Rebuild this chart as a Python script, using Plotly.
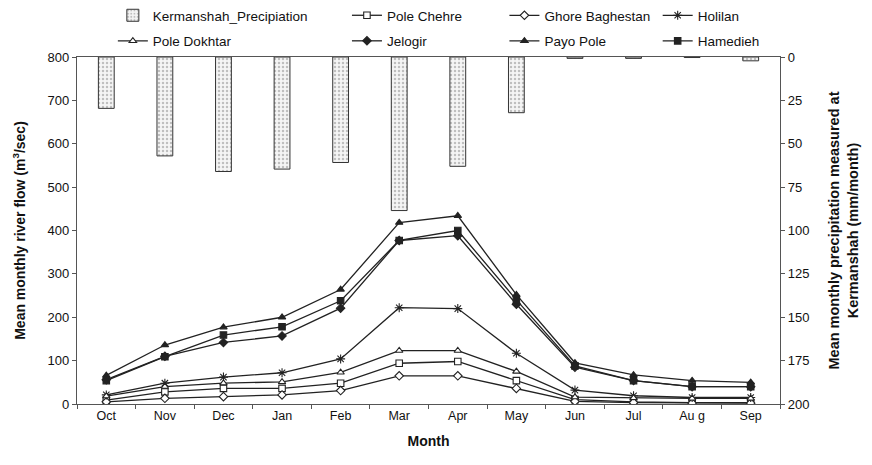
import plotly.graph_objects as go

months = ["Oct", "Nov", "Dec", "Jan", "Feb", "Mar", "Apr", "May", "Jun", "Jul", "Au g", "Sep"]

precip = [29.6, 57.0, 66.0, 64.6, 60.8, 88.5, 63.0, 32.1, 0.8, 0.8, 0.3, 2.2]

pole_chehre = [9, 28, 36, 36, 48, 94, 98, 54, 10, 5, 3, 3]
ghore_baghestan = [5, 13, 17, 21, 31, 65, 65, 36, 6, 3, 2, 2]
holilan = [21, 48, 62, 72, 104, 222, 220, 117, 32, 19, 15, 15]
pole_dokhtar = [18, 40, 48, 51, 73, 123, 123, 75, 16, 14, 13, 13]
jelogir = [56, 110, 142, 157, 221, 377, 388, 230, 85, 54, 40, 40]
payo_pole = [66, 136, 177, 200, 264, 418, 434, 252, 95, 67, 54, 50]
hamedieh = [54, 109, 159, 178, 238, 377, 400, 240, 88, 54, 40, 40]

FONT = "Liberation Sans, Arial, sans-serif"
LC = "#222222"

fig = go.Figure()

fig.add_trace(go.Bar(
    x=months, y=precip, name="Kermanshah_Precipiation", yaxis="y2",
    width=0.27,
    marker=dict(color="#f2f2f2", line=dict(color="#333333", width=1),
                pattern=dict(shape=".", fgcolor="#888888", bgcolor="#f5f5f5", size=4, solidity=0.3)),
    legend="legend", legendgroup="a",
))

# (name, values, symbol, filled, legend, size)
series = [
    ("Pole Chehre", pole_chehre, "square", False, "legend2", 6.5),
    ("Ghore Baghestan", ghore_baghestan, "diamond", False, "legend3", 6.5),
    ("Holilan", holilan, "asterisk-open", True, "legend4", 7.5),
    ("Pole Dokhtar", pole_dokhtar, "triangle-up", False, "legend", 6.5),
    ("Jelogir", jelogir, "diamond", True, "legend2", 6.5),
    ("Payo Pole", payo_pole, "triangle-up", True, "legend3", 6.5),
    ("Hamedieh", hamedieh, "square", True, "legend4", 6.5),
]
for i, (name, vals, sym, filled, leg, sz) in enumerate(series):
    fig.add_trace(go.Scatter(
        x=months, y=vals, name=name, mode="lines+markers",
        line=dict(color=LC, width=1.3),
        marker=dict(symbol=sym, size=sz, color=LC if filled else "white",
                    line=dict(color=LC, width=1.1)),
        legend=leg, legendgroup="g%d" % i,
    ))

leg_common = dict(orientation="v", yref="container", yanchor="top", y=1.006,
                  xanchor="left",
                  font=dict(family=FONT, size=13.5, color="#111"),
                  bgcolor="rgba(0,0,0,0)", tracegroupgap=5, itemwidth=30)

fig.update_layout(
    width=872, height=465,
    margin=dict(l=77, r=92, t=57, b=61, autoexpand=False),
    plot_bgcolor="white", paper_bgcolor="white",
    font=dict(family=FONT, size=12, color="#111"),
    barmode="overlay",
    legend=dict(x=0.051, **leg_common),
    legend2=dict(x=0.384, **leg_common),
    legend3=dict(x=0.608, **leg_common),
    legend4=dict(x=0.826, **leg_common),
    xaxis=dict(
        type="category", categoryorder="array", categoryarray=months,
        range=[-0.5, 11.5], showline=True, linecolor="#555", linewidth=1.2,
        mirror=True, ticks="outside", ticklen=4, tickcolor="#555",
        tickson="boundaries", showgrid=False,
        tickfont=dict(family=FONT, size=12.5),
        title=dict(text="<b>Month</b>", font=dict(family=FONT, size=14), standoff=14),
    ),
    yaxis=dict(
        range=[0, 800], dtick=100, showline=True, linecolor="#555", linewidth=1.2,
        ticks="outside", ticklen=4, tickcolor="#555", showgrid=False, zeroline=False,
        tickfont=dict(family=FONT, size=13),
        title=dict(text="<b>Mean monthly river flow (m<sup>3</sup>/sec)</b>",
                   font=dict(family=FONT, size=14), standoff=18),
    ),
    yaxis2=dict(
        overlaying="y", side="right", range=[200, 0], dtick=25,
        showline=True, linecolor="#555", linewidth=1.2,
        ticks="outside", ticklen=4, tickcolor="#555", showgrid=False, zeroline=False,
        tickfont=dict(family=FONT, size=13),
        title=dict(text="<b>Mean monthly precipitation measured at<br>Kermanshah (mm/month)</b>",
                   font=dict(family=FONT, size=14.5), standoff=20),
    ),
)

fig.write_html("out.html")
